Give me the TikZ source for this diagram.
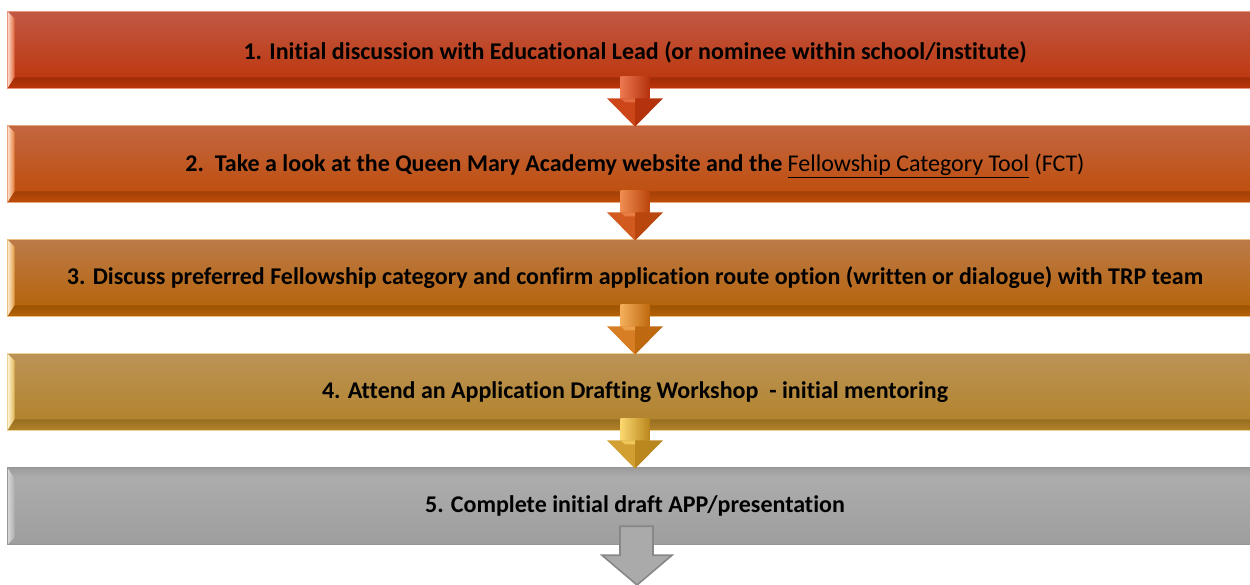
\documentclass[tikz,border=0pt]{standalone}
\usepackage{fontspec}
\setmainfont{Carlito}[RawFeature=-liga]
\usetikzlibrary{calc}
% bar colours: top, bottom, light (bevel), edge
\definecolor{aT}{RGB}{193,88,68}\definecolor{aB}{RGB}{188,52,8}\definecolor{aL}{RGB}{246,128,80}\definecolor{aE}{RGB}{232,150,125}
\definecolor{bT}{RGB}{195,102,64}\definecolor{bB}{RGB}{190,76,8}\definecolor{bL}{RGB}{248,150,80}\definecolor{bE}{RGB}{232,165,125}
\definecolor{cT}{RGB}{187,122,72}\definecolor{cB}{RGB}{182,98,4}\definecolor{cL}{RGB}{250,185,95}\definecolor{cE}{RGB}{235,190,130}
\definecolor{dT}{RGB}{187,147,86}\definecolor{dB}{RGB}{178,130,40}\definecolor{dL}{RGB}{252,215,110}\definecolor{dE}{RGB}{235,210,150}
\definecolor{eT}{RGB}{174,174,174}\definecolor{eB}{RGB}{158,158,158}\definecolor{eL}{RGB}{215,215,215}\definecolor{eE}{RGB}{150,150,150}
% arrow colours
\definecolor{a1L}{RGB}{236,120,80}\definecolor{a1M}{RGB}{205,70,25}\definecolor{a1D}{RGB}{180,50,12}
\definecolor{a2L}{RGB}{240,140,80}\definecolor{a2M}{RGB}{210,90,30}\definecolor{a2D}{RGB}{185,70,12}
\definecolor{a3L}{RGB}{245,175,90}\definecolor{a3M}{RGB}{215,125,35}\definecolor{a3D}{RGB}{190,105,15}
\definecolor{a4L}{RGB}{250,215,110}\definecolor{a4M}{RGB}{210,160,50}\definecolor{a4D}{RGB}{185,135,30}
\definecolor{a5F}{RGB}{170,170,170}\definecolor{a5D}{RGB}{135,135,135}
\tikzset{
  barbox/.style={minimum width=940.5pt, minimum height=57pt, inner sep=0pt,
    font=\bfseries\fontsize{18}{21}\selectfont, text=black},
}
\newcommand\barbevel[5]{% name, top, bottom, light, edge
  \shade[top color=#2, bottom color=#3] (#1.south west) rectangle (#1.north east);
  \shade[left color=#4!30!white, right color=#4!60!#3] (#1.south west) -- (#1.north west) -- ($(#1.north west)+(7,7)$) -- ($(#1.south west)+(7,-11)$) -- cycle;
  \shade[top color=#3!85!black, middle color=#4, bottom color=#3] (#1.south west) -- ($(#1.south west)+(7,-11)$) -- ($(#1.south east)+(-7,-11)$) -- (#1.south east) -- cycle;
  \draw[#5, line width=0.6pt] (#1.south west) rectangle (#1.north east);
}
\newcommand\flowarrow[5]{% from, to, light, mid, dark
  \shade[left color=#3, middle color=#4, right color=#5] ($(#1.south)+(-14.5,-12)$) rectangle ($(#1.south)+(14.5,10)$);
  \fill[#4] ($(#1.south)+(-28,10)$) -- ($(#1.south)+(0,10)$) -- ($(#2.north)+(0,1)$) -- cycle;
  \fill[#5] ($(#1.south)+(28,10)$) -- ($(#1.south)+(0,10)$) -- ($(#2.north)+(0,1)$) -- cycle;
  \fill[#3!70!#4] ($(#1.south)+(-14.5,10)$) -- ($(#1.south)+(0,10)$) -- ($(#1.south)+(0,14)$) -- ($(#1.south)+(-10,14)$) -- cycle;
}
\begin{document}
\begin{tikzpicture}[x=0.75pt, y=-0.75pt]
\useasboundingbox (0,0) rectangle (1250,585);
\clip (0,0) rectangle (1250,585);
\node[barbox] (b1) at (635,50) {};
\node[barbox] (b2) at (635,164) {};
\node[barbox] (b3) at (635,278) {};
\node[barbox] (b4) at (635,392) {};
\node[barbox] (b5) at (635,506) {};
\barbevel{b1}{aT}{aB}{aL}{aE}
\barbevel{b2}{bT}{bB}{bL}{bE}
\barbevel{b3}{cT}{cB}{cL}{cE}
\barbevel{b4}{dT}{dB}{dL}{dE}
% grey bar: bevel on top
\shade[top color=eT, bottom color=eB] (b5.south west) rectangle (b5.north east);
\shade[left color=eL, right color=eT] (b5.north west) -- (b5.south west) -- ($(b5.south west)+(7,-7)$) -- ($(b5.north west)+(7,11)$) -- cycle;
\shade[top color=eT!90!black, middle color=white, bottom color=eT] (b5.north west) -- ($(b5.north west)+(7,11)$) -- ($(b5.north east)+(-7,11)$) -- (b5.north east) -- cycle;
\draw[eE, line width=0.6pt] (b5.south west) rectangle (b5.north east);
% texts
\node[barbox] at ($(b1)+(0,2)$) {1. Initial discussion with Educational Lead (or nominee within school/institute)};
\node[barbox] at ($(b2)+(0,2)$) {2.\ \ Take a look at the Queen Mary Academy website and the \mdseries\underline{Fellowship Category Tool} (FCT)};
\node[barbox] at ($(b3)+(0,0)$) {3. Discuss preferred Fellowship category and confirm application route option (written or dialogue) with TRP team};
\node[barbox] at ($(b4)+(0,0)$) {4. Attend an Application Drafting Workshop\ \ - initial mentoring};
\node[barbox] at ($(b5)+(0,0)$) {5. Complete initial draft APP/presentation};
% arrows
\flowarrow{b1}{b2}{a1L}{a1M}{a1D}
\flowarrow{b2}{b3}{a2L}{a2M}{a2D}
\flowarrow{b3}{b4}{a3L}{a3M}{a3D}
\flowarrow{b4}{b5}{a4L}{a4M}{a4D}
\coordinate (end) at (637,585);
\draw[fill=a5F, draw=a5D, line width=1.2pt, line join=miter]
  ($(b5.south)+(-15,-18)$) -- ($(b5.south)+(18,-18)$) -- ($(b5.south)+(18,11)$) -- ($(b5.south)+(37,11)$)
  -- (end) -- ($(b5.south)+(-33,11)$) -- ($(b5.south)+(-15,11)$) -- cycle;
\end{tikzpicture}
\end{document}
